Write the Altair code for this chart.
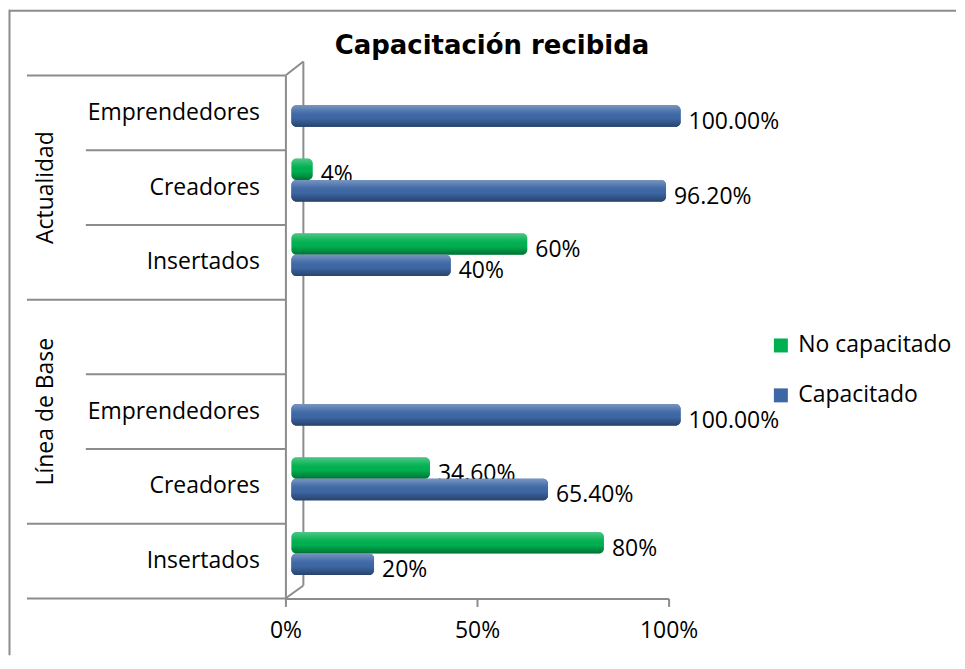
import altair as alt
import pandas as pd

# ---------------- data ----------------
groups = ["Actualidad", "Actualidad", "Actualidad",
          "Línea de Base", "Línea de Base", "Línea de Base", ""]
categories = ["Emprendedores", "Creadores", "Insertados",
              "", "Emprendedores", "Creadores", "Insertados"]
no_capacitado = [None, 4, 60, None, None, 34.6, 80]
capacitado = [100, 96.2, 40, None, 100, 65.4, 20]
no_cap_labels = ["", "4%", "60%", "", "", "34.60%", "80%"]
cap_labels = ["100.00%", "96.20%", "40%", "", "100.00%", "65.40%", "20%"]
series = ["No capacitado", "Capacitado"]
colors = ["#00B050", "#3D67A5"]
x_ticks = [0, 50, 100]
title_text = "Capacitación recibida"

keys = [f"{i}|{c}" for i, c in enumerate(categories)]

rows = []
for i, k in enumerate(keys):
    if no_capacitado[i] is not None:
        rows.append({"key": k, "series": series[0], "value": no_capacitado[i], "label": no_cap_labels[i]})
    if capacitado[i] is not None:
        rows.append({"key": k, "series": series[1], "value": capacitado[i], "label": cap_labels[i]})
df = pd.DataFrame(rows)

# ---------------- layout ----------------
W = 384
N = len(keys)
ROW_H = 74.86
H = round(N * ROW_H)
GRAY = "#8c8c8c"
FONT = "Open Sans"
FS = 23

dummy = pd.DataFrame({"a": [0]})


def rule(x, y, x2, y2, w=2):
    return alt.Chart(dummy).mark_rule(color=GRAY, strokeWidth=w).encode(
        x=alt.value(x), y=alt.value(y), x2=alt.value(x2), y2=alt.value(y2))


y_enc = alt.Y("key:N",
              scale=alt.Scale(domain=keys, paddingInner=0, paddingOuter=0),
              axis=alt.Axis(title=None, labelExpr="split(datum.label, '|')[1]",
                            ticks=False, domain=True, domainColor=GRAY, domainWidth=2,
                            labelFont=FONT, labelFontSize=FS, labelColor="#000",
                            labelPadding=26, labelLimit=0))
yoff_enc = alt.YOffset("series:N",
                       scale=alt.Scale(domain=series, paddingInner=0,
                                       paddingOuter=0.741, align=0.26))
x_enc = alt.X("value:Q", scale=alt.Scale(domain=[0, 100]),
              axis=alt.Axis(values=x_ticks, labelExpr="datum.value + '%'", title=None,
                            grid=False, domainColor=GRAY, domainWidth=2,
                            tickColor=GRAY, tickWidth=2, tickSize=8,
                            labelFont=FONT, labelFontSize=FS, labelColor="#000",
                            labelPadding=13, labelFlush=False))
color_enc = alt.Color("series:N", scale=alt.Scale(domain=series, range=colors),
                      legend=alt.Legend(title=None, orient="none", legendX=485, legendY=259,
                                        symbolType="square", symbolSize=196,
                                        symbolStrokeWidth=0, labelFont=FONT,
                                        labelFontSize=FS, labelColor="#000",
                                        rowPadding=26, padding=0, labelOffset=6))

shade = alt.Gradient(
    gradient="linear", x1=0, x2=0, y1=0, y2=1,
    stops=[alt.GradientStop(color="rgba(255,255,255,0.30)", offset=0),
           alt.GradientStop(color="rgba(255,255,255,0.05)", offset=0.35),
           alt.GradientStop(color="rgba(0,0,0,0.0)", offset=0.6),
           alt.GradientStop(color="rgba(0,0,0,0.35)", offset=1)])

base = alt.Chart(df)


def bars(data_filter):
    b = base.transform_filter(data_filter)
    solid = b.mark_bar(xOffset=12, x2Offset=6, cornerRadius=5).encode(
        x=x_enc, x2=alt.datum(0), y=y_enc, yOffset=yoff_enc, color=color_enc)
    gloss = b.mark_bar(xOffset=12, x2Offset=6, cornerRadius=5, color=shade).encode(
        x="value:Q", x2=alt.datum(0), y="key:N", yOffset="series:N")
    return solid + gloss


def labels(data_filter):
    return base.transform_filter(data_filter).mark_text(
        align="left", baseline="alphabetic", dx=20, dy=13,
        font=FONT, fontSize=FS, color="#000").encode(
        x="value:Q", y="key:N", yOffset="series:N", text="label:N")


green_f = alt.datum.series == series[0]
blue_f = alt.datum.series == series[1]

# decorations: frame, separators, 3-D wall
layers = []
layers.append(rule(-277, -65, 672, -65))            # frame top
layers.append(rule(-276.5, -66, -276.5, 581))       # frame left
bounds = [0]
for i in range(1, N):
    if groups[i] != groups[i - 1]:
        bounds.append(i)
bounds.append(N)
for r in range(N + 1):
    yy = r * ROW_H
    x_start = -259 if r in bounds else -200
    layers.append(rule(x_start, yy, 0, yy))
layers.append(rule(18, -14, 18, H - 13))            # back wall
layers.append(rule(0, 0, 18, -14))
layers.append(rule(0, H, 18, H - 13))

# group labels
for gi in range(len(bounds) - 1):
    g = groups[bounds[gi]]
    if g:
        mid = (bounds[gi] + bounds[gi + 1]) / 2 * ROW_H
        layers.append(alt.Chart(dummy).mark_text(
            text=g, angle=270, font=FONT, fontSize=FS, color="#000",
            align="center", baseline="middle").encode(
            x=alt.value(-240), y=alt.value(mid)))

# title
layers.append(alt.Chart(dummy).mark_text(
    text=title_text, font="DejaVu Sans", fontWeight="bold", fontSize=26,
    color="#000", align="center", baseline="alphabetic").encode(
    x=alt.value(207), y=alt.value(-22)))

layers.append(bars(alt.datum.value >= 0))
layers.append(labels(green_f))
layers.append(bars(blue_f))
layers.append(labels(blue_f))

chart = alt.layer(*layers).properties(
    width=W, height=H, padding=0
).configure_view(stroke=None)

chart.save("out.html", embed_options={"renderer": "svg", "actions": False})
